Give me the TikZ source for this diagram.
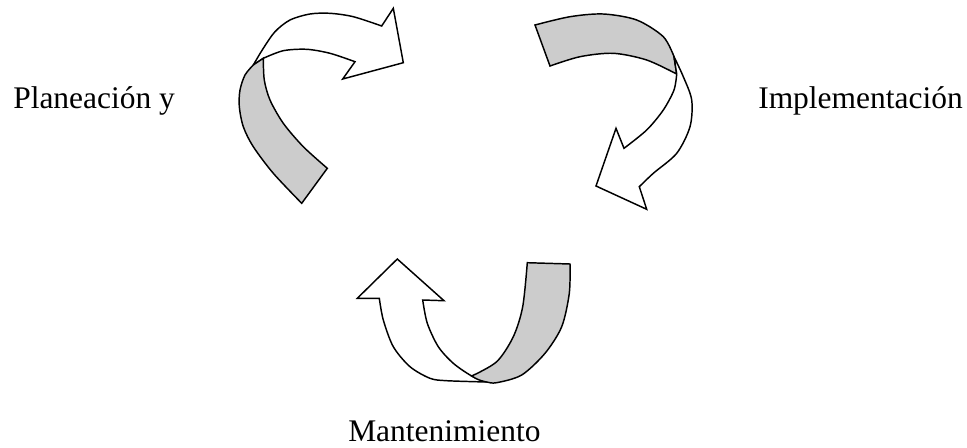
\documentclass[tikz,border=0pt]{standalone}
\usepackage{fontspec}
\setmainfont{Liberation Serif}
\begin{document}
\begin{tikzpicture}[x=0.75pt,y=-0.75pt,
  band/.style={draw=black,line width=1.1pt,line join=miter,fill=white},
  grayband/.style={band,fill=black!20},
  lbl/.style={anchor=base west,inner sep=0pt,font=\fontsize{23.6}{28}\selectfont}]
\useasboundingbox (0,0) rectangle (967,447);
% top-left arrow
\path[band] plot[smooth] coordinates {(253.3,65) (263.3,48.3) (275,31.7) (290,20) (310,14) (330,13.3) (353.3,16.7) (381.7,26)}
  -- (393.3,8.3) -- (403.3,62.7) -- (342.7,79) -- (355,61.7)
  -- plot[smooth] coordinates {(355,61.7) (330,53.3) (306.7,49.3) (283.3,50.7) (263.3,58.3)} -- cycle;
\path[grayband] plot[smooth] coordinates {(253.3,65) (245,75) (240,90) (239.3,106.7) (243.3,126.7) (253.3,146.7) (273.3,173.3) (301.7,203.3)}
  -- (327.3,168.3)
  -- plot[smooth] coordinates {(327.3,168.3) (303.3,146.7) (283.3,123.3) (270,100) (264.3,80) (263.3,58.3)} -- cycle;
% top-right arrow
\path[grayband] plot[smooth] coordinates {(535,25) (570,16.7) (603.3,14) (636.7,20) (663.3,36.7) (674,56.7)}
  -- (676.7,74)
  -- plot[smooth] coordinates {(676.7,74) (646.7,60) (613.3,53.3) (580,56.7) (550,66)} -- cycle;
\path[band] plot[smooth] coordinates {(674,56.7) (683.3,76.7) (691.7,100) (690,126.7) (676.7,153.3) (653.3,173.3) (639.3,186.7)}
  -- (646.7,209.3) -- (596,186) -- (616,128.3) -- (624,148.3)
  -- plot[smooth] coordinates {(624,148.3) (646.7,130) (663.3,110) (674,90) (676.7,74)} -- cycle;
% bottom arrow
\path[band] plot[smooth] coordinates {(379.3,298.3) (383.3,320) (393.3,346.7) (410,366.7) (430,378.3) (446.7,380.7) (486.7,382)}
  -- plot[smooth] coordinates {(486.7,382) (471.7,376) (453.3,363.3) (438.3,346.7) (427.3,323.3) (422.7,300)}
  -- (444,300.7) -- (397.3,259) -- (357.3,298.3) -- cycle;
\path[grayband] plot[smooth] coordinates {(471.7,376) (496.7,361.7) (513.3,336.7) (522.7,306.7) (527.3,262.7)}
  -- (570,264)
  -- plot[smooth] coordinates {(570,264) (569.3,293.3) (561.7,326.7) (545,353.3) (521.7,375) (496.7,382.7) (486.7,382) (478,379.5) (471.7,376)} -- cycle;
% labels
\node[lbl] (plan) at (13,108.3) {Planeación y};
\node[lbl] (impl) at (758,108.3) {Implementación};
\node[lbl] (mant) at (348,441) {Mantenimiento};
\end{tikzpicture}
\end{document}
